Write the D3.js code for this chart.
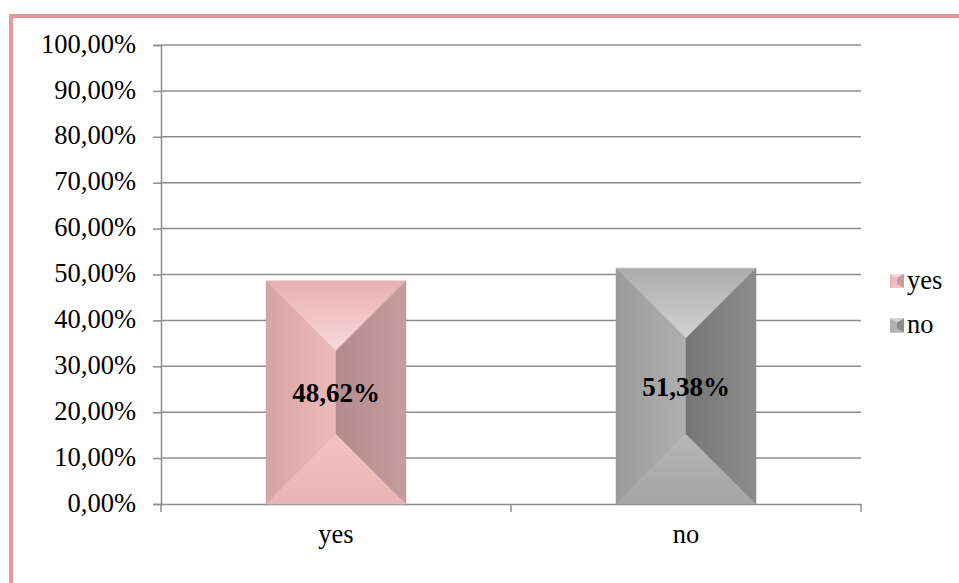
<!DOCTYPE html>
<html><head><meta charset="utf-8">
<script src="https://cdn.jsdelivr.net/npm/d3@7"></script>
<style>body{margin:0;background:#fff}svg{display:block}svg text{font-family:"Liberation Serif","Times New Roman",serif !important}</style>
</head><body>
<svg id="c" width="959" height="583"></svg>
<script>
const categories = ["yes", "no"];
const values = [0.4862, 0.5138];
const labels = ["48,62%", "51,38%"];
const yTicks = [0, 0.1, 0.2, 0.3, 0.4, 0.5, 0.6, 0.7, 0.8, 0.9, 1.0];
const tickLabels = ["0,00%","10,00%","20,00%","30,00%","40,00%","50,00%","60,00%","70,00%","80,00%","90,00%","100,00%"];
const palettes = [
  {top:["#e8b0b2","#f9d8da"], left:["#d9a3a5","#ecbabc"], right:["#b48a8c","#c69c9e"], bottom:["#f3c3c3","#eab3b4"]},
  {top:["#acacac","#d2d2d2"], left:["#9a9a9a","#b0b0b0"], right:["#767676","#8c8c8c"], bottom:["#b6b6b6","#a4a4a4"]}
];

const svg = d3.select("#c");
const FS = 26.5;

svg.append("rect").attr("x", 11).attr("y", 16).attr("width", 1000).attr("height", 1000)
  .attr("fill", "none").attr("stroke", "#e09a9c").attr("stroke-width", 4);

const L = 161, R = 861, T = 45, B = 504;
const x = d3.scaleBand().domain(categories).range([L, R]).paddingInner(0.6).paddingOuter(0.3);
const y = d3.scaleLinear().domain([0, 1]).range([B, T]);

svg.append("g").selectAll("line").data(yTicks.slice(1)).join("line")
  .attr("x1", L).attr("x2", R).attr("y1", d => y(d)).attr("y2", d => y(d))
  .attr("stroke", "#8c8c8c").attr("stroke-width", 1.5);

const ya = svg.append("g").attr("transform", `translate(${L},0)`)
  .call(d3.axisLeft(y).tickValues(yTicks).tickFormat((d,i) => tickLabels[i]).tickSize(8).tickPadding(17));
ya.select(".domain").attr("stroke", "#8c8c8c").attr("stroke-width", 1.5);
ya.selectAll(".tick line").attr("stroke", "#8c8c8c").attr("stroke-width", 1.5);
ya.selectAll("text").style("font-size", FS + "px").attr("fill", "#000").attr("dy", "0.27em");

const xb = d3.scaleBand().domain(categories).range([L, R]);
const xa = svg.append("g").attr("transform", `translate(0,${B})`)
  .call(d3.axisBottom(xb).tickSize(0).tickPadding(20));
xa.select(".domain").attr("stroke", "#8c8c8c").attr("stroke-width", 1.5);
xa.selectAll("text").style("font-size", FS + "px").attr("fill", "#000");
svg.append("g").selectAll("line").data([L, xb("no"), R]).join("line")
  .attr("x1", d => d).attr("x2", d => d).attr("y1", B).attr("y2", B + 8)
  .attr("stroke", "#8c8c8c").attr("stroke-width", 1.5);

const defs = svg.append("defs");
palettes.forEach((p, i) => {
  const mk = (name, x1, y1, x2, y2, cols) => {
    const g = defs.append("linearGradient").attr("id", `g${i}${name}`)
      .attr("x1", x1).attr("y1", y1).attr("x2", x2).attr("y2", y2);
    g.append("stop").attr("offset", "0%").attr("stop-color", cols[0]);
    g.append("stop").attr("offset", "100%").attr("stop-color", cols[1]);
  };
  mk("top", 0, 0, 0, 1, p.top);
  mk("left", 0, 0, 1, 0, p.left);
  mk("right", 0, 0, 1, 0, p.right);
  mk("bottom", 0, 0, 0, 1, p.bottom);
});

categories.forEach((c, i) => {
  const x0 = x(c), x1 = x0 + x.bandwidth(), y0 = y(values[i]), y1 = y(0);
  const h = x.bandwidth() / 2, cx = x0 + h;
  const ay = y0 + h, by = y1 - h;
  const g = svg.append("g");
  const faces = [
    ["top", [[x0,y0],[x1,y0],[cx,ay]]],
    ["bottom", [[x0,y1],[x1,y1],[cx,by]]],
    ["left", [[x0,y0],[cx,ay],[cx,by],[x0,y1]]],
    ["right", [[x1,y0],[cx,ay],[cx,by],[x1,y1]]]
  ];
  faces.forEach(([n, pts]) => {
    g.append("polygon").attr("points", pts.map(p => p.join(",")).join(" "))
      .attr("fill", `url(#g${i}${n})`).attr("stroke", `url(#g${i}${n})`).attr("stroke-width", 0.5);
  });
  svg.append("text").attr("x", cx).attr("y", (y0 + y1) / 2 + 10)
    .attr("text-anchor", "middle")
    .style("font-weight", "bold").style("font-size", "27px").attr("fill", "#000")
    .text(labels[i]);
});

const lg = svg.append("g");
categories.forEach((c, i) => {
  const ly = 281 + i * 44.5;
  const s = 14, lx = 890, m = s / 2;
  const p = palettes[i];
  const cx = lx + m, cy = ly;
  const q = 4;
  lg.append("rect").attr("x", lx).attr("y", ly - m).attr("width", s).attr("height", s).attr("fill", p.left[1]);
  lg.append("polygon").attr("points", `${lx},${ly-m} ${lx+s},${ly-m} ${cx},${cy-m+q}`).attr("fill", p.top[1]);
  lg.append("polygon").attr("points", `${lx+s},${ly-m} ${lx+s},${ly+m} ${cx},${cy+m-q} ${cx},${cy-m+q}`).attr("fill", p.right[1]);
  lg.append("polygon").attr("points", `${lx},${ly+m} ${lx+s},${ly+m} ${cx},${cy+m-q}`).attr("fill", p.bottom[0]);
  lg.append("text").attr("x", lx + s + 3).attr("y", ly + 7.5)
    .style("font-size", FS + "px").attr("fill", "#000").text(c);
});
</script>
</body></html>
